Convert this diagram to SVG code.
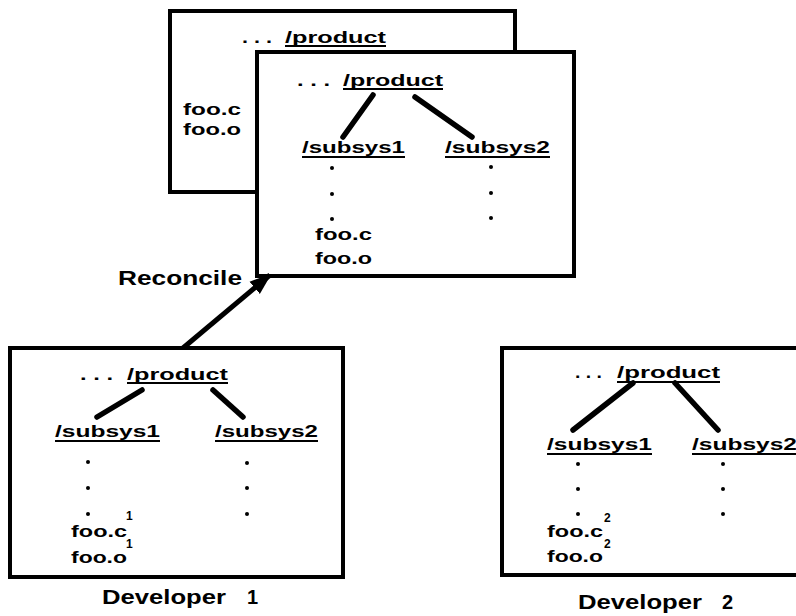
<svg xmlns="http://www.w3.org/2000/svg" width="796" height="616" viewBox="0 0 796 616">
<style>
.box{fill:#fff;stroke:#000;stroke-width:4}
.t{font-family:"Liberation Sans",Arial,sans-serif;font-weight:bold;font-size:17px;fill:#000}
.lbl{font-family:"Liberation Sans",Arial,sans-serif;font-weight:bold;font-size:20px;fill:#000}
.sup{font-family:"Liberation Sans",Arial,sans-serif;font-weight:bold;font-size:12px;fill:#000}
.ul{stroke:#000;stroke-width:2}
.tree{stroke:#000;stroke-width:5.5;stroke-linecap:round;fill:none}
.dot{fill:#000}
.arrow{stroke:#000;stroke-width:5;fill:none}
</style>
<defs>
<marker id="ah" markerWidth="22" markerHeight="18" refX="20" refY="9" orient="auto" markerUnits="userSpaceOnUse">
<path d="M0,1 L22,9 L0,17 Z" fill="#000"/>
</marker>
</defs>
<rect width="796" height="616" fill="#fff"/>

<g id="back-box">
<rect class="box" x="170" y="11" width="345" height="181"/>
<text class="t" x="242" y="43" textLength="30" lengthAdjust="spacingAndGlyphs">. . .</text>
<text class="t" x="285" y="43" textLength="101" lengthAdjust="spacingAndGlyphs">/product</text>
<line class="ul" x1="285" y1="46" x2="386" y2="46"/>
<text class="t" x="183" y="115" textLength="58" lengthAdjust="spacingAndGlyphs">foo.c</text>
<text class="t" x="183" y="135" textLength="58" lengthAdjust="spacingAndGlyphs">foo.o</text>
</g>

<g id="front-box">
<rect class="box" x="257" y="52" width="317" height="224"/>
<text class="t" x="297" y="86" textLength="33" lengthAdjust="spacingAndGlyphs">. . .</text>
<text class="t" x="343" y="86" textLength="100" lengthAdjust="spacingAndGlyphs">/product</text>
<line class="ul" x1="343" y1="89" x2="443" y2="89"/>
<text class="t" x="302" y="153" textLength="103" lengthAdjust="spacingAndGlyphs">/subsys1</text>
<line class="ul" x1="302" y1="157" x2="405" y2="157"/>
<text class="t" x="445" y="153" textLength="105" lengthAdjust="spacingAndGlyphs">/subsys2</text>
<line class="ul" x1="445" y1="157" x2="550" y2="157"/>
<circle class="dot" cx="332" cy="168" r="2"/>
<circle class="dot" cx="332" cy="194" r="2"/>
<circle class="dot" cx="332" cy="219" r="2"/>
<circle class="dot" cx="491" cy="167" r="2"/>
<circle class="dot" cx="491" cy="193" r="2"/>
<circle class="dot" cx="491" cy="218" r="2"/>
<text class="t" x="315" y="240" textLength="57" lengthAdjust="spacingAndGlyphs">foo.c</text>
<text class="t" x="315" y="264" textLength="57" lengthAdjust="spacingAndGlyphs">foo.o</text>
</g>

<g id="dev1">
<rect class="box" x="10" y="348" width="333" height="229"/>
<text class="t" x="80" y="380" textLength="33" lengthAdjust="spacingAndGlyphs">. . .</text>
<text class="t" x="127" y="380" textLength="101" lengthAdjust="spacingAndGlyphs">/product</text>
<line class="ul" x1="127" y1="383" x2="228" y2="383"/>
<text class="t" x="55" y="437" textLength="105" lengthAdjust="spacingAndGlyphs">/subsys1</text>
<line class="ul" x1="55" y1="441" x2="160" y2="441"/>
<text class="t" x="215" y="437" textLength="103" lengthAdjust="spacingAndGlyphs">/subsys2</text>
<line class="ul" x1="215" y1="441" x2="318" y2="441"/>
<circle class="dot" cx="88" cy="462" r="2"/>
<circle class="dot" cx="88" cy="488" r="2"/>
<circle class="dot" cx="88" cy="514" r="2"/>
<circle class="dot" cx="247" cy="463" r="2"/>
<circle class="dot" cx="247" cy="488" r="2"/>
<circle class="dot" cx="247" cy="514" r="2"/>
<text class="t" x="71" y="537" textLength="56" lengthAdjust="spacingAndGlyphs">foo.c</text>
<text class="sup" x="126" y="520">1</text>
<text class="t" x="71" y="563" textLength="56" lengthAdjust="spacingAndGlyphs">foo.o</text>
<text class="sup" x="126" y="548">1</text>
<text class="lbl" x="102" y="604" textLength="124" lengthAdjust="spacingAndGlyphs">Developer</text>
<text class="lbl" x="247" y="604">1</text>
</g>

<g id="dev2">
<rect class="box" x="502" y="348" width="320" height="227"/>
<text class="t" x="575" y="378" textLength="27" lengthAdjust="spacingAndGlyphs">. . .</text>
<text class="t" x="617" y="378" textLength="103" lengthAdjust="spacingAndGlyphs">/product</text>
<line class="ul" x1="617" y1="382" x2="720" y2="382"/>
<text class="t" x="547" y="450" textLength="105" lengthAdjust="spacingAndGlyphs">/subsys1</text>
<line class="ul" x1="547" y1="454" x2="652" y2="454"/>
<text class="t" x="692" y="450" textLength="105" lengthAdjust="spacingAndGlyphs">/subsys2</text>
<line class="ul" x1="692" y1="454" x2="797" y2="454"/>
<circle class="dot" cx="578" cy="464" r="2"/>
<circle class="dot" cx="578" cy="489" r="2"/>
<circle class="dot" cx="578" cy="514" r="2"/>
<circle class="dot" cx="723" cy="464" r="2"/>
<circle class="dot" cx="723" cy="489" r="2"/>
<circle class="dot" cx="723" cy="514" r="2"/>
<text class="t" x="547" y="537" textLength="56" lengthAdjust="spacingAndGlyphs">foo.c</text>
<text class="sup" x="604" y="522">2</text>
<text class="t" x="547" y="562" textLength="56" lengthAdjust="spacingAndGlyphs">foo.o</text>
<text class="sup" x="604" y="548">2</text>
<text class="lbl" x="578" y="609" textLength="124" lengthAdjust="spacingAndGlyphs">Developer</text>
<text class="lbl" x="722" y="609">2</text>
</g>

<g id="connectors">
<line class="tree" x1="373" y1="95" x2="343" y2="137"/>
<line class="tree" x1="415" y1="97" x2="472" y2="137"/>
<line class="tree" x1="142" y1="390" x2="97" y2="417"/>
<line class="tree" x1="213" y1="390" x2="243" y2="417"/>
<line class="tree" x1="633" y1="383" x2="573" y2="430"/>
<line class="tree" x1="675" y1="383" x2="718" y2="430"/>
<line class="arrow" x1="183" y1="348" x2="270" y2="275" marker-end="url(#ah)"/>
<text class="lbl" x="118" y="285" textLength="124" lengthAdjust="spacingAndGlyphs">Reconcile</text>
</g>
</svg>
